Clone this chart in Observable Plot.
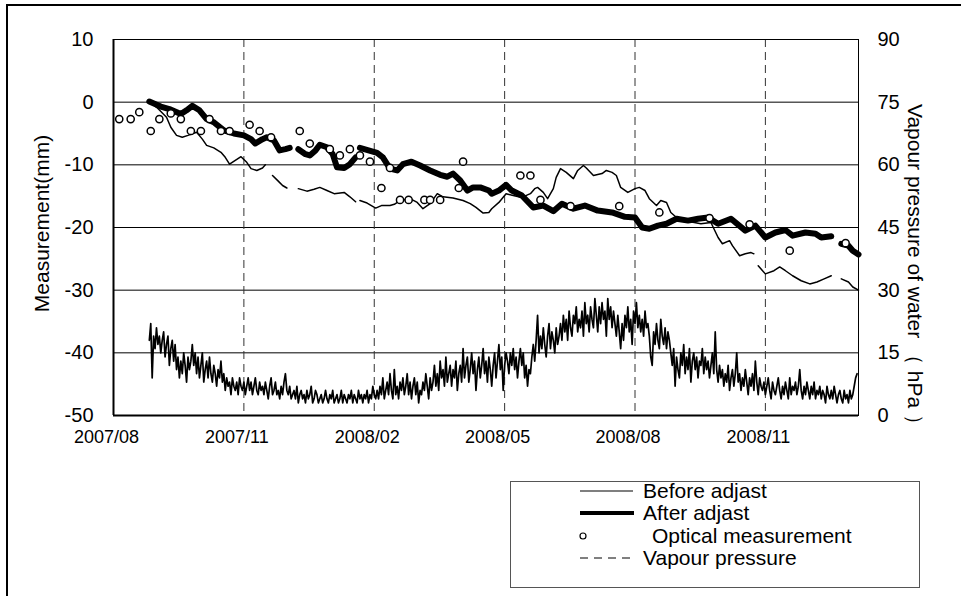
<!DOCTYPE html>
<html>
<head>
<meta charset="utf-8">
<script src="https://cdn.jsdelivr.net/npm/d3@7"></script>
<script src="https://cdn.jsdelivr.net/npm/@observablehq/plot@0.6"></script>
<style>
  body { margin: 0; background: #fff; font-family: "Liberation Sans", Arial, sans-serif; }
  #page { position: relative; width: 961px; height: 596px; overflow: hidden; background: #fff; }
  #border { position: absolute; left: 6px; top: 4px; width: 960px; height: 600px;
            border-top: 2px solid #000; border-left: 2px solid #000; }
  #chart { position: absolute; left: 0; top: 0; }
  #legend { position: absolute; left: 510px; top: 471px; }
</style>
</head>
<body>
<div id="page">
  <div id="border"></div>
  <div id="chart"></div>
  <div id="legend"></div>
</div>
<script>
// Axis ticks and domain
const xDomain = ["2007-08-15", "2009-01-16"];
const xTicks = ["2007-08-15", "2007-11-14", "2008-02-13", "2008-05-14", "2008-08-13", "2008-11-12"];
const leftTicks = [-50, -40, -30, -20, -10, 0, 10];
const rightRange = [0, 90]; // vapour pressure axis, hPa

// Displacement before adjustment (mm); null marks a break in the record
const beforeAdjust = [
  ["2007-09-09", 0.1], ["2007-09-15", -1.0], ["2007-09-21", -2.4], ["2007-09-24", -4.0], ["2007-09-28", -5.3],
  ["2007-10-02", -5.6], ["2007-10-06", -5.3], ["2007-10-12", -4.8], ["2007-10-16", -5.9], ["2007-10-19", -6.9],
  ["2007-10-24", -7.3], ["2007-10-29", -8.0], ["2007-11-01", -8.8], ["2007-11-04", -9.9], ["2007-11-08", -9.3],
  ["2007-11-12", -8.7], ["2007-11-16", -9.6], ["2007-11-19", -10.6], ["2007-11-23", -10.9], ["2007-11-27", -10.5],
  ["2007-11-29", -10.0], ["2007-12-01", null],
  ["2007-12-04", -11.7], ["2007-12-08", -12.6], ["2007-12-11", -13.3], ["2007-12-14", -13.7], ["2007-12-18", null],
  ["2007-12-22", -13.8], ["2007-12-28", -14.2], ["2008-01-02", -13.9], ["2008-01-06", -13.6], ["2008-01-11", -14.1],
  ["2008-01-16", -14.6], ["2008-01-23", -14.4], ["2008-01-27", -15.1], ["2008-01-31", -15.9], ["2008-02-01", null],
  ["2008-02-03", -15.7], ["2008-02-08", -16.1], ["2008-02-14", -16.9], ["2008-02-18", -16.5], ["2008-02-24", -16.5],
  ["2008-02-27", -16.3], ["2008-03-02", -15.7], ["2008-03-09", -15.4], ["2008-03-14", -16.0], ["2008-03-18", -17.0],
  ["2008-03-23", -16.2], ["2008-03-28", -14.6], ["2008-04-01", -15.1], ["2008-04-08", -15.3], ["2008-04-15", -15.7],
  ["2008-04-20", -16.2], ["2008-04-24", -16.8], ["2008-04-29", -17.7], ["2008-05-03", -17.6], ["2008-05-05", -17.0],
  ["2008-05-10", -16.0], ["2008-05-15", -14.6], ["2008-05-20", -14.9], ["2008-05-26", -15.2], ["2008-06-01", -14.6],
  ["2008-06-04", -13.8], ["2008-06-06", -13.6], ["2008-06-10", -14.4], ["2008-06-13", -15.4], ["2008-06-17", -13.8],
  ["2008-06-19", -12.0], ["2008-06-22", -10.6], ["2008-06-26", -11.2], ["2008-07-01", -12.2], ["2008-07-04", -10.9],
  ["2008-07-08", -10.1], ["2008-07-10", -10.5], ["2008-07-15", -11.7], ["2008-07-21", -11.4], ["2008-07-24", -10.9],
  ["2008-07-28", -11.2], ["2008-07-31", -11.7], ["2008-08-03", -13.6], ["2008-08-08", -14.4], ["2008-08-13", -13.8],
  ["2008-08-16", -13.6], ["2008-08-20", -14.1], ["2008-08-23", -15.4], ["2008-08-28", -16.5], ["2008-08-31", -15.7],
  ["2008-09-04", -16.0], ["2008-09-07", -17.6], ["2008-09-12", -18.6], ["2008-09-16", -18.9], ["2008-09-28", -19.4],
  ["2008-10-05", -19.2], ["2008-10-10", -21.6], ["2008-10-13", -22.6], ["2008-10-18", -22.1], ["2008-10-20", -22.9],
  ["2008-10-25", -24.5], ["2008-10-29", -24.2], ["2008-11-02", -24.0], ["2008-11-04", -24.2], ["2008-11-05", null],
  ["2008-11-07", -26.1], ["2008-11-12", -27.4], ["2008-11-18", -26.9], ["2008-11-22", -26.3], ["2008-11-26", -26.9],
  ["2008-12-01", -27.7], ["2008-12-07", -28.5], ["2008-12-13", -29.0], ["2008-12-18", -28.7], ["2008-12-23", -28.2],
  ["2008-12-28", -27.7], ["2008-12-31", null],
  ["2009-01-04", -28.2], ["2009-01-09", -28.7], ["2009-01-12", -29.5], ["2009-01-16", -30.0]
];

// Displacement after adjustment (mm)
const afterAdjust = [
  ["2007-09-09", 0.1], ["2007-09-17", -0.7], ["2007-09-23", -1.1], ["2007-10-01", -1.9], ["2007-10-05", -1.3],
  ["2007-10-09", -0.6], ["2007-10-14", -1.3], ["2007-10-19", -2.7], ["2007-10-24", -3.2], ["2007-10-31", -4.5],
  ["2007-11-07", -5.0], ["2007-11-14", -5.3], ["2007-11-19", -5.9], ["2007-11-22", -6.6], ["2007-11-27", -5.9],
  ["2007-11-30", -5.6], ["2007-12-05", -6.1], ["2007-12-09", -7.7], ["2007-12-13", -7.5], ["2007-12-16", -7.3],
  ["2007-12-19", null],
  ["2007-12-22", -7.5], ["2007-12-27", -8.3], ["2007-12-30", -8.5], ["2008-01-03", -7.7], ["2008-01-06", -6.8],
  ["2008-01-11", -7.2], ["2008-01-15", -8.3], ["2008-01-18", -10.4], ["2008-01-23", -10.5], ["2008-01-27", -9.9],
  ["2008-01-31", -8.8], ["2008-02-01", null],
  ["2008-02-03", -7.3], ["2008-02-09", -7.7], ["2008-02-15", -8.1], ["2008-02-19", -8.8], ["2008-02-24", -10.6],
  ["2008-02-29", -10.9], ["2008-03-04", -9.9], ["2008-03-10", -9.5], ["2008-03-16", -10.1], ["2008-03-23", -10.9],
  ["2008-03-30", -11.6], ["2008-04-04", -11.9], ["2008-04-08", -11.4], ["2008-04-13", -12.5], ["2008-04-18", -14.1],
  ["2008-04-22", -13.6], ["2008-04-27", -13.6], ["2008-05-03", -14.1], ["2008-05-05", -14.6], ["2008-05-10", -14.1],
  ["2008-05-15", -13.2], ["2008-05-19", -14.1], ["2008-05-26", -14.9], ["2008-06-03", -16.8], ["2008-06-10", -16.5],
  ["2008-06-17", -17.4], ["2008-06-23", -16.2], ["2008-07-01", -17.0], ["2008-07-09", -16.5], ["2008-07-18", -17.3],
  ["2008-07-28", -17.6], ["2008-08-06", -18.3], ["2008-08-13", -18.4], ["2008-08-18", -20.0], ["2008-08-23", -20.2],
  ["2008-08-29", -19.7], ["2008-09-04", -19.4], ["2008-09-11", -18.6], ["2008-09-19", -18.9], ["2008-09-26", -18.6],
  ["2008-10-03", -18.4], ["2008-10-10", -19.4], ["2008-10-19", -18.6], ["2008-10-29", -20.5], ["2008-11-05", -19.7],
  ["2008-11-12", -21.6], ["2008-11-19", -20.8], ["2008-11-26", -20.4], ["2008-12-01", -21.3], ["2008-12-10", -20.8],
  ["2008-12-17", -21.0], ["2008-12-21", -21.6], ["2008-12-28", -21.4], ["2008-12-31", null],
  ["2009-01-04", -22.6], ["2009-01-09", -22.9], ["2009-01-12", -23.7], ["2009-01-16", -24.3]
];

// Optical survey readings (mm)
const opticalMeasurement = [
  ["2007-08-19", -2.7], ["2007-08-27", -2.7], ["2007-09-02", -1.6], ["2007-09-10", -4.6], ["2007-09-16", -2.7],
  ["2007-09-24", -1.8], ["2007-10-01", -2.7], ["2007-10-08", -4.6], ["2007-10-15", -4.6], ["2007-10-21", -2.7],
  ["2007-10-29", -4.6], ["2007-11-04", -4.6], ["2007-11-18", -3.6], ["2007-11-25", -4.6], ["2007-12-03", -5.6],
  ["2007-12-23", -4.6], ["2007-12-30", -6.6], ["2008-01-13", -7.5], ["2008-01-20", -8.5], ["2008-01-27", -7.5],
  ["2008-02-03", -8.5], ["2008-02-10", -9.5], ["2008-02-18", -13.7], ["2008-02-24", -10.5], ["2008-03-02", -15.6],
  ["2008-03-08", -15.6], ["2008-03-19", -15.6], ["2008-03-23", -15.6], ["2008-03-30", -15.6], ["2008-04-12", -13.7],
  ["2008-04-15", -9.5], ["2008-05-25", -11.7], ["2008-06-01", -11.7], ["2008-06-08", -15.6], ["2008-06-29", -16.6],
  ["2008-08-02", -16.6], ["2008-08-30", -17.6], ["2008-10-04", -18.5], ["2008-11-01", -19.5], ["2008-11-29", -23.7],
  ["2009-01-07", -22.5]
];

// Daily vapour pressure of water (hPa), starting on vapourStart
const vapourStart = "2007-09-09";
const vapourPressure = [
  18, 22, 9, 19, 16, 21, 17, 19, 15, 18,   20, 14, 17, 19, 12, 16, 18, 13, 17, 11,
  14, 9, 13, 10, 15, 12, 8, 14, 11, 13,    17, 12, 15, 10, 14, 9, 12, 15, 8, 11,
  13, 9, 14, 10, 8, 12, 10, 7, 11, 9,      13, 8, 10, 6, 9, 7, 8, 5, 9, 7,
  6, 8, 5, 9, 7, 6, 8, 5, 7, 9,            6, 8, 5, 7, 9, 6, 5, 8, 6, 7,
  5, 8, 6, 4, 7, 9, 5, 6, 8, 5,            6, 4, 7, 5, 8, 10, 6, 5, 7, 4,
  5, 6, 4, 7, 3, 5, 6, 4, 5, 3,            6, 4, 5, 7, 3, 4, 6, 5, 3, 4,
  5, 3, 4, 6, 4, 3, 5, 4, 6, 3,            4, 5, 3, 4, 6, 3, 5, 4, 3, 5,
  4, 6, 3, 5, 4, 3, 6, 4, 5, 3,            5, 4, 6, 3, 5, 4, 7, 5, 4, 6,
  4, 7, 5, 9, 4, 6, 8, 5, 10, 6,           4, 11, 5, 7, 4, 8, 6, 9, 5, 7,
  10, 5, 8, 4, 7, 9, 5, 8, 3, 6,           5, 8, 6, 10, 7, 4, 9, 6, 8, 12,
  7, 10, 6, 13, 9, 11, 7, 14, 8, 10,       12, 7, 11, 9, 13, 6, 10, 12, 8, 16,
  9, 12, 14, 8, 11, 15, 10, 13, 6, 11,     14, 9, 12, 16, 10, 13, 8, 14, 11, 7,
  12, 15, 9, 13, 17, 11, 14, 6, 12, 15,    13, 10, 15, 12, 16, 11, 14, 9, 13, 16,
  12, 15, 9, 12, 7, 11, 10, 14, 17, 13,    18, 24, 15, 19, 16, 21, 17, 14, 19, 22,
  16, 20, 18, 15, 21, 17, 19, 22, 18, 24,  20, 23, 18, 25, 21, 19, 24, 22, 26, 20,
  23, 21, 25, 19, 27, 22, 24, 20, 26, 23,  21, 28, 24, 20, 26, 22, 27, 23, 25, 19,
  28, 23, 26, 21, 25, 22, 19, 24, 20, 16,  22, 18, 24, 21, 26, 20, 23, 17, 25, 22,
  27, 21, 24, 20, 23, 19, 25, 21, 22, 19,  14, 12, 20, 17, 22, 18, 16, 23, 19, 17,
  21, 16, 20, 18, 15, 12, 16, 7, 14, 11,   9, 15, 12, 17, 10, 14, 11, 16, 8, 13,
  15, 11, 14, 9, 13, 12, 16, 10, 14, 11,   13, 9, 12, 15, 10, 20, 11, 8, 12, 9,
  11, 7, 10, 8, 12, 6, 9, 11, 7, 10,       15, 8, 10, 6, 9, 7, 11, 8, 5, 9,
  7, 10, 6, 13, 8, 5, 9, 7, 6, 8,          5, 7, 9, 6, 4, 8, 6, 5, 7, 9,
  6, 4, 7, 5, 8, 6, 4, 9, 5, 7,            6, 8, 5, 7, 11, 6, 4, 7, 5, 8,
  6, 4, 7, 5, 8, 4, 6, 5, 7, 4,            6, 5, 3, 7, 5, 4, 6, 4, 7, 5,
  3, 5, 6, 4, 3, 6, 4, 5, 3, 6,            4, 5, 7, 9, 10
];

// Axis titles and legend entries
const leftTitle = "Measurement(mm)";
const rightTitle = "Vapour pressure of water （ hPa ）";
const legendLabels = ["Before adjast", "After adjast", "Optical measurement", "Vapour pressure"];

// ---- build table rows ----
const parse = d3.utcParse("%Y-%m-%d");
const toRows = pairs => pairs.map(([d, v]) => ({date: parse(d), value: v == null ? NaN : v}));
const before = toRows(beforeAdjust);
const after = toRows(afterAdjust);
const optical = toRows(opticalMeasurement);

// Vapour pressure shares the plot with the displacement axis: map hPa onto mm positions
const vpToLeft = d3.scaleLinear().domain(rightRange).range([leftTicks[0], leftTicks[leftTicks.length - 1]]);
const vpStartDate = parse(vapourStart);
const vapour = vapourPressure.map((p, i) => ({date: d3.utcDay.offset(vpStartDate, i), value: vpToLeft(p)}));

const xTickDates = xTicks.map(parse);
const domainX = xDomain.map(parse);
const font = '"Liberation Sans", Arial, sans-serif';

const chart = Plot.plot({
  width: 961,
  height: 460,
  marginLeft: 113,
  marginRight: 103,
  marginTop: 39,
  marginBottom: 45,
  style: {fontFamily: font, fontSize: "20px", color: "#000", background: "transparent", overflow: "visible"},
  x: {type: "utc", domain: domainX},
  y: {domain: [leftTicks[0], leftTicks[leftTicks.length - 1]]},
  marks: [
    Plot.ruleY(leftTicks.slice(1, -1), {stroke: "#000", strokeWidth: 1}),
    Plot.ruleX(xTickDates.slice(1), {stroke: "#333", strokeWidth: 1, strokeDasharray: "8,5"}),
    Plot.line(vapour, {x: "date", y: "value", stroke: "#000", strokeWidth: 1.7}),
    Plot.line(before, {x: "date", y: "value", stroke: "#000", strokeWidth: 1.5, strokeLinejoin: "round"}),
    Plot.line(after, {x: "date", y: "value", stroke: "#000", strokeWidth: 6, strokeLinejoin: "round", strokeLinecap: "round"}),
    Plot.dot(optical, {x: "date", y: "value", r: 3.6, fill: "#fff", stroke: "#000", strokeWidth: 1.5}),
    Plot.frame({stroke: "#000", strokeWidth: 1}),
    Plot.ruleX([domainX[0]], {stroke: "#000", strokeWidth: 2}),
    Plot.ruleY([leftTicks[0]], {stroke: "#000", strokeWidth: 2}),
    Plot.axisX({ticks: xTickDates, tickFormat: d3.utcFormat("%Y/%m"), tickSize: 0, tickPadding: 15, dx: -7, fontSize: 18, label: null}),
    Plot.axisY({anchor: "left", ticks: leftTicks, tickFormat: d => String(d), tickSize: 0, tickPadding: 20, label: null}),
    Plot.axisY({anchor: "right", ticks: leftTicks, tickFormat: v => String(Math.round(vpToLeft.invert(v))), tickSize: 0, tickPadding: 19, label: null}),
    Plot.text([leftTitle], {text: d => d, frameAnchor: "left", textAnchor: "middle", dx: -71, dy: -4, rotate: -90, fontSize: 21}),
    Plot.text([rightTitle], {text: d => d, frameAnchor: "right", textAnchor: "middle", dx: 56, dy: 42, rotate: 90, fontSize: 21})
  ]
});
document.getElementById("chart").appendChild(chart);

// ---- legend box ----
const lg = d3.select("#legend").append("svg")
  .attr("width", 420).attr("height", 125)
  .style("font-family", font).style("font-size", "21px");
lg.append("rect").attr("x", 0.5).attr("y", 10.5).attr("width", 409).attr("height", 106)
  .attr("fill", "#fff").attr("stroke", "#555").attr("stroke-width", 1);
const rowY = [20, 42, 65, 87];
legendLabels.forEach((label, i) => {
  const y = rowY[i];
  if (i === 0) lg.append("line").attr("x1", 70).attr("x2", 123).attr("y1", y).attr("y2", y).attr("stroke", "#000").attr("stroke-width", 1.2);
  if (i === 1) lg.append("line").attr("x1", 70).attr("x2", 124).attr("y1", y).attr("y2", y).attr("stroke", "#000").attr("stroke-width", 4);
  if (i === 2) lg.append("circle").attr("cx", 73).attr("cy", y).attr("r", 3).attr("fill", "#fff").attr("stroke", "#000").attr("stroke-width", 1.2);
  if (i === 3) lg.append("line").attr("x1", 70).attr("x2", 123).attr("y1", y).attr("y2", y).attr("stroke", "#000").attr("stroke-width", 1).attr("stroke-dasharray", "8,6");
  lg.append("text").attr("x", i === 2 ? 142 : 133).attr("y", y).attr("dy", "0.35em").attr("fill", "#000").text(label);
});
</script>
</body>
</html>
